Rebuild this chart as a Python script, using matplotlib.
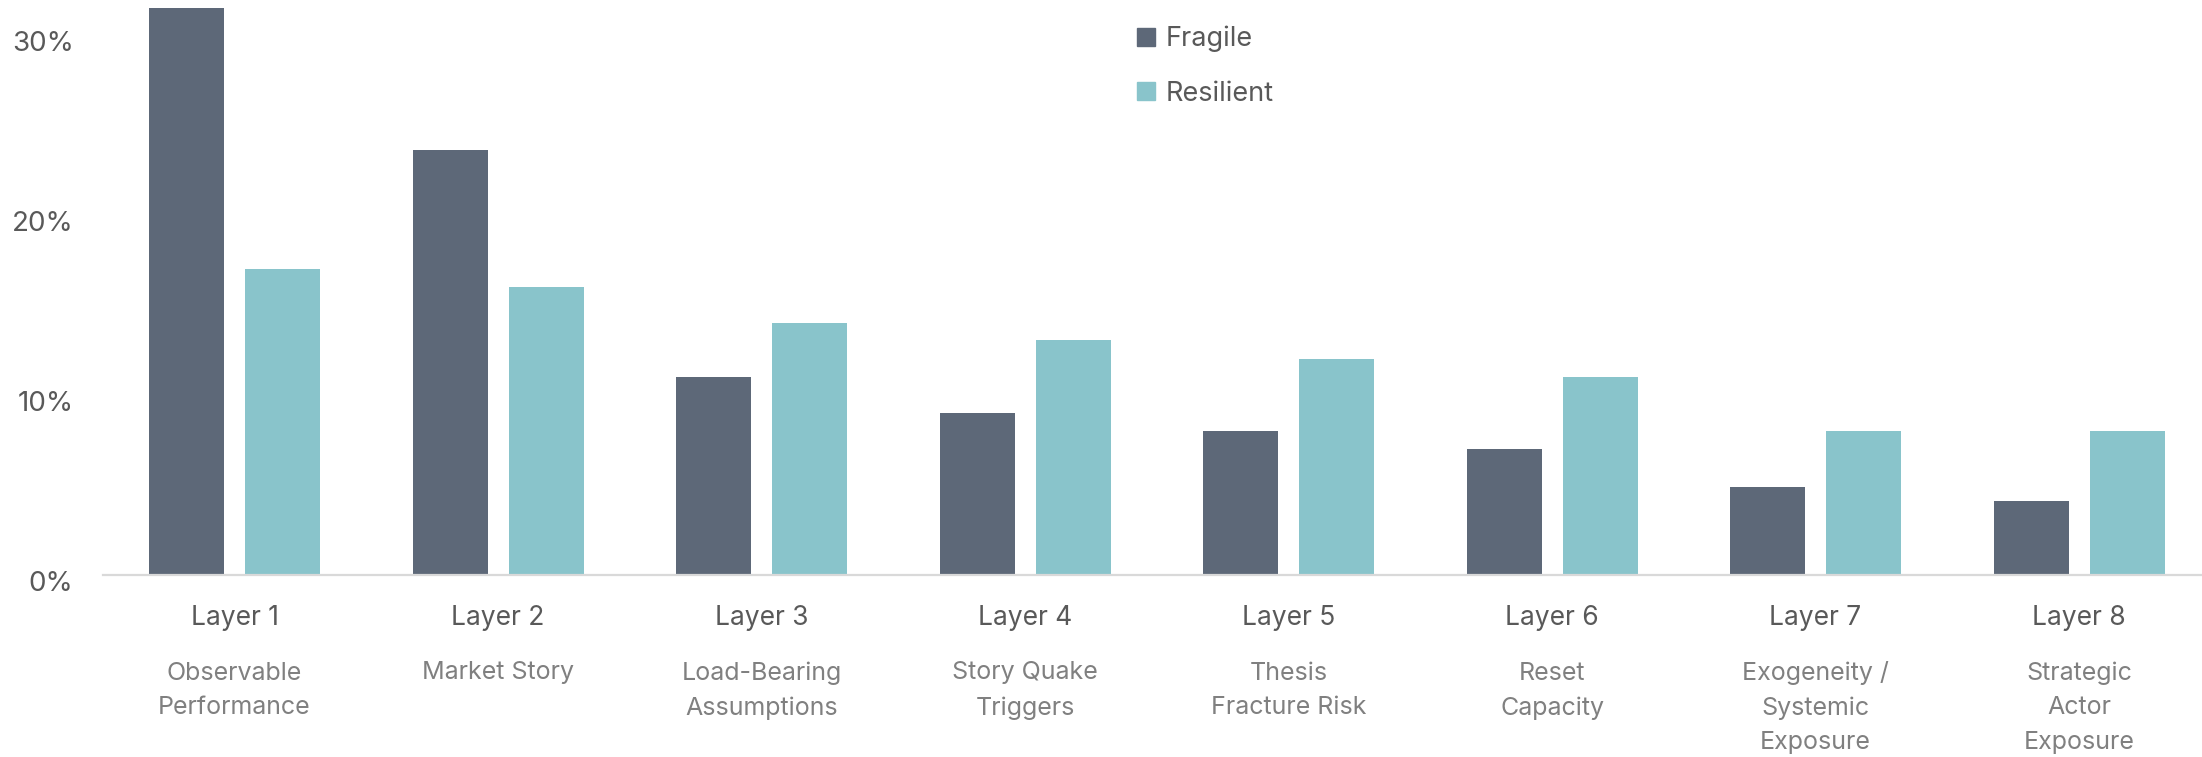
import matplotlib
matplotlib.use("Agg")
import matplotlib.pyplot as plt
import matplotlib.transforms as mtransforms
from matplotlib.patches import Patch
from matplotlib.ticker import FuncFormatter
import numpy as np

plt.rcParams['font.family'] = ['Inter', 'DejaVu Sans']

layers = ["Layer 1", "Layer 2", "Layer 3", "Layer 4",
          "Layer 5", "Layer 6", "Layer 7", "Layer 8"]
descriptions = [
    "Observable\nPerformance",
    "Market Story",
    "Load-Bearing\nAssumptions",
    "Story Quake\nTriggers",
    "Thesis\nFracture Risk",
    "Reset\nCapacity",
    "Exogeneity /\nSystemic\nExposure",
    "Strategic\nActor\nExposure",
]
fragile = [31.5, 23.6, 11.0, 9.0, 8.0, 7.0, 4.9, 4.1]
resilient = [17.0, 16.0, 14.0, 13.1, 12.0, 11.0, 8.0, 8.0]
yticks = [0, 10, 20, 30]

C_FRAGILE = "#5D6878"
C_RESILIENT = "#89C4CB"
TXT_DARK = "#595959"
TXT_LIGHT = "#808080"

W, H = 2202, 757
fig = plt.figure(figsize=(W / 100, H / 100), dpi=100)
ax = fig.add_axes([102.75 / W, (H - 575.3) / H, 2108 / W, 575.3 / H])

x = np.arange(len(layers))
bw = 75 / 263.5
off = 48 / 263.5
ax.bar(x - off, fragile, width=bw, color=C_FRAGILE, label="Fragile", zorder=2)
ax.bar(x + off, resilient, width=bw, color=C_RESILIENT, label="Resilient", zorder=2)

ax.set_xlim(-0.5, len(layers) - 0.5)
ax.set_ylim(0, 575.3 / 18.0)
ax.axhline(0, color="#D9D9D9", lw=1.6, zorder=3, clip_on=False)

for s in ax.spines.values():
    s.set_visible(False)
ax.set_xticks([])
ax.set_yticks(yticks)
ax.yaxis.set_major_formatter(FuncFormatter(lambda v, p: f"{v:.0f}%"))
ax.tick_params(axis="y", length=0, pad=21, labelsize=20, labelcolor=TXT_DARK)
shift = mtransforms.ScaledTranslation(0, -4 / 72, fig.dpi_scale_trans)
for lbl in ax.get_yticklabels():
    lbl.set_transform(lbl.get_transform() + shift)

# category labels under the axis
trans = mtransforms.blended_transform_factory(ax.transData, fig.transFigure)
for i, (name, desc) in enumerate(zip(layers, descriptions)):
    ax.text(i, 1 - 618 / H, name, transform=trans, ha="center", va="center",
            fontsize=19, color=TXT_DARK)
    for k, line in enumerate(desc.split("\n")):
        ax.text(i, 1 - (673 + 35 * k) / H, line, transform=trans,
                ha="center", va="center", fontsize=18, color=TXT_LIGHT)

handles = [Patch(color=C_FRAGILE, label="Fragile"),
           Patch(color=C_RESILIENT, label="Resilient")]
fig.legend(handles=handles, loc="upper left",
           bbox_to_anchor=(1137 / W, 1 - 26 / H), frameon=False,
           fontsize=19.5, labelcolor=TXT_DARK, handlelength=0.65,
           handleheight=0.65, handletextpad=0.4, labelspacing=1.05,
           borderpad=0, borderaxespad=0)

fig.savefig("out.png", dpi=100, facecolor="white")
